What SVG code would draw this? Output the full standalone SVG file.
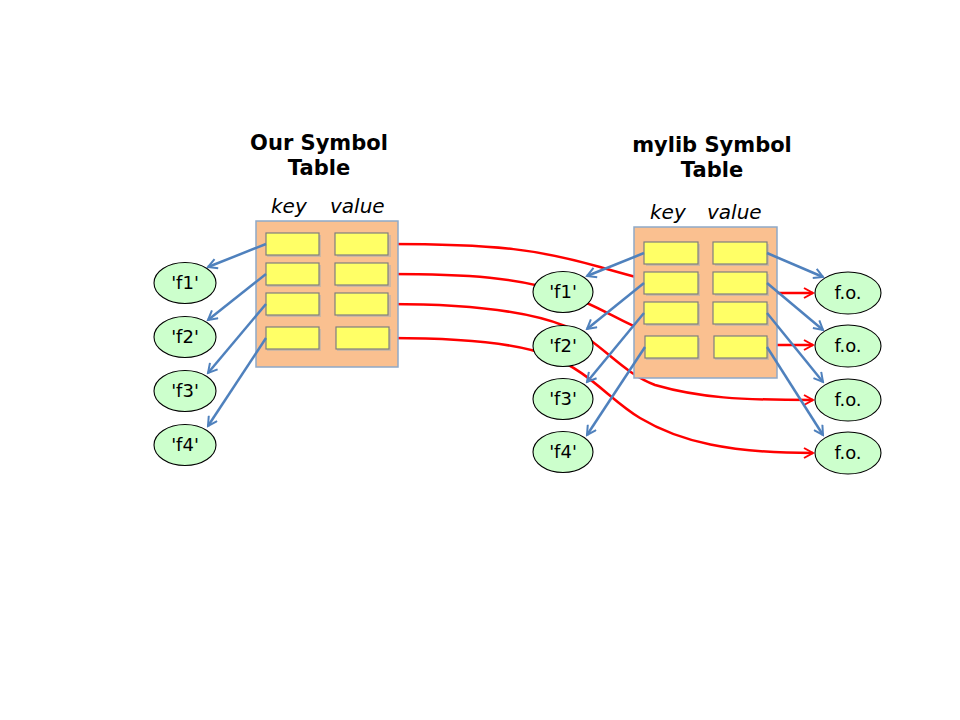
<svg xmlns="http://www.w3.org/2000/svg" width="960" height="720" viewBox="0 0 960 720">
<defs>
<marker id="ab" viewBox="0 0 12 12" refX="10" refY="6" markerWidth="12" markerHeight="12" markerUnits="userSpaceOnUse" orient="auto">
<path d="M1,1 L10,6 L1,11" fill="none" stroke="#4F81BD" stroke-width="2"/>
</marker>
<marker id="ar" viewBox="0 0 12 12" refX="10" refY="6" markerWidth="12" markerHeight="12" markerUnits="userSpaceOnUse" orient="auto">
<path d="M1,1 L10,6 L1,11" fill="none" stroke="#FF0000" stroke-width="2"/>
</marker>
</defs>
<style>
.title{font-family:"DejaVu Sans",sans-serif;font-weight:bold;font-size:21px;fill:#000;text-anchor:middle}
.hdr{font-family:"DejaVu Sans",sans-serif;font-style:italic;font-size:20px;fill:#000}
.lbl{font-family:"DejaVu Sans",sans-serif;font-size:18px;fill:#000;text-anchor:middle}
.tbl{fill:#FAC090;stroke:#8EA9C8;stroke-width:1.5}
.cell{fill:#FFFF66;stroke:#7F7F7F;stroke-width:1.2}
.sh{fill:#B0B0B0;opacity:0.6}
.ell{fill:#CCFFCC;stroke:#000;stroke-width:1.1}
.blue{fill:none;stroke:#4F81BD;stroke-width:2.5;marker-end:url(#ab)}
.red{fill:none;stroke:#FF0000;stroke-width:2.5}
</style>
<rect width="960" height="720" fill="#fff"/>

<g id="connectors-red">
<path class="red" marker-end="url(#ar)" d="M388,244 C500,244 540,250 600,267 S690,293 740,293 L813,293"/>
<path class="red" marker-end="url(#ar)" d="M388,274 C470,274 520,278 560,292 C600,306 620,322 650,333 C690,345 720,345 780,345 L813,345"/>
<path class="red" marker-end="url(#ar)" d="M388,304 C470,304 530,312 565,326 C600,340 620,372 655,385 C700,398 740,400 813,400"/>
<path class="red" marker-end="url(#ar)" d="M390,338 C470,338 520,344 550,356 C590,372 610,400 640,418 C680,442 730,453 813,453"/>
</g>

<g id="title-left">
<text class="title" x="319" y="150">Our Symbol</text>
<text class="title" x="319" y="175">Table</text>
<text class="hdr" x="271" y="213">key</text>
<text class="hdr" x="330" y="213">value</text>
</g>
<g id="title-right">
<text class="title" x="712" y="152">mylib Symbol</text>
<text class="title" x="712" y="177">Table</text>
<text class="hdr" x="650" y="219">key</text>
<text class="hdr" x="707" y="219">value</text>
</g>

<g id="table-left">
<rect class="tbl" x="256" y="221" width="142" height="146"/>
<rect class="sh" x="267" y="235" width="54" height="22"/>
<rect class="sh" x="337" y="235" width="54" height="22"/>
<rect class="sh" x="267" y="265" width="54" height="22"/>
<rect class="sh" x="337" y="265" width="54" height="22"/>
<rect class="sh" x="267" y="295" width="54" height="22"/>
<rect class="sh" x="337" y="295" width="54" height="22"/>
<rect class="sh" x="267" y="329" width="54" height="22"/>
<rect class="sh" x="337" y="329" width="54" height="22"/>
<rect class="cell" x="266" y="233" width="53" height="22"/>
<rect class="cell" x="335" y="233" width="53" height="22"/>
<rect class="cell" x="266" y="263" width="53" height="22"/>
<rect class="cell" x="335" y="263" width="53" height="22"/>
<rect class="cell" x="266" y="293" width="53" height="22"/>
<rect class="cell" x="335" y="293" width="53" height="22"/>
<rect class="cell" x="266" y="327" width="53" height="22"/>
<rect class="cell" x="336" y="327" width="53" height="22"/>
</g>

<g id="table-right">
<rect class="tbl" x="634" y="227" width="143" height="151"/>
<rect class="sh" x="646" y="244" width="54" height="22"/>
<rect class="sh" x="715" y="244" width="54" height="22"/>
<rect class="sh" x="646" y="274" width="54" height="22"/>
<rect class="sh" x="715" y="274" width="54" height="22"/>
<rect class="sh" x="646" y="304" width="54" height="22"/>
<rect class="sh" x="715" y="304" width="54" height="22"/>
<rect class="sh" x="646" y="338" width="54" height="22"/>
<rect class="sh" x="715" y="338" width="54" height="22"/>
<rect class="cell" x="644" y="242" width="54" height="22"/>
<rect class="cell" x="713" y="242" width="54" height="22"/>
<rect class="cell" x="644" y="272" width="54" height="22"/>
<rect class="cell" x="713" y="272" width="54" height="22"/>
<rect class="cell" x="644" y="302" width="54" height="22"/>
<rect class="cell" x="713" y="302" width="54" height="22"/>
<rect class="cell" x="645" y="336" width="53" height="22"/>
<rect class="cell" x="714" y="336" width="53" height="22"/>
</g>

<g id="node-lf1"><ellipse class="ell" cx="185" cy="283" rx="31" ry="20.5"/><text class="lbl" x="185" y="289">'f1'</text></g>
<g id="node-lf2"><ellipse class="ell" cx="185" cy="337" rx="31" ry="20.5"/><text class="lbl" x="185" y="343">'f2'</text></g>
<g id="node-lf3"><ellipse class="ell" cx="185" cy="391" rx="31" ry="20.5"/><text class="lbl" x="185" y="397">'f3'</text></g>
<g id="node-lf4"><ellipse class="ell" cx="185" cy="445" rx="31" ry="20.5"/><text class="lbl" x="185" y="451">'f4'</text></g>

<g id="node-mf1"><ellipse class="ell" cx="563" cy="292" rx="30" ry="20.5"/><text class="lbl" x="563" y="298">'f1'</text></g>
<g id="node-mf2"><ellipse class="ell" cx="563" cy="346" rx="30" ry="20.5"/><text class="lbl" x="563" y="352">'f2'</text></g>
<g id="node-mf3"><ellipse class="ell" cx="563" cy="399" rx="30" ry="20.5"/><text class="lbl" x="563" y="405">'f3'</text></g>
<g id="node-mf4"><ellipse class="ell" cx="563" cy="452" rx="30" ry="20.5"/><text class="lbl" x="563" y="458">'f4'</text></g>

<g id="node-fo1"><ellipse class="ell" cx="848" cy="293" rx="33" ry="21"/><text class="lbl" x="848" y="299">f.o.</text></g>
<g id="node-fo2"><ellipse class="ell" cx="848" cy="346" rx="33" ry="21"/><text class="lbl" x="848" y="352">f.o.</text></g>
<g id="node-fo3"><ellipse class="ell" cx="848" cy="400" rx="33" ry="21"/><text class="lbl" x="848" y="406">f.o.</text></g>
<g id="node-fo4"><ellipse class="ell" cx="848" cy="453" rx="33" ry="21"/><text class="lbl" x="848" y="459">f.o.</text></g>

<g id="connectors-blue">
<line class="blue" x1="266" y1="244" x2="208" y2="267"/>
<line class="blue" x1="266" y1="274" x2="208" y2="320"/>
<line class="blue" x1="266" y1="304" x2="208" y2="373"/>
<line class="blue" x1="266" y1="338" x2="208" y2="426"/>
<line class="blue" x1="644" y1="253" x2="587" y2="276"/>
<line class="blue" x1="644" y1="283" x2="587" y2="329"/>
<line class="blue" x1="644" y1="313" x2="587" y2="382"/>
<line class="blue" x1="645" y1="347" x2="587" y2="435"/>
<line class="blue" x1="767" y1="253" x2="823" y2="277"/>
<line class="blue" x1="767" y1="283" x2="823" y2="330"/>
<line class="blue" x1="767" y1="313" x2="823" y2="382"/>
<line class="blue" x1="767" y1="347" x2="823" y2="435"/>
</g>
</svg>
